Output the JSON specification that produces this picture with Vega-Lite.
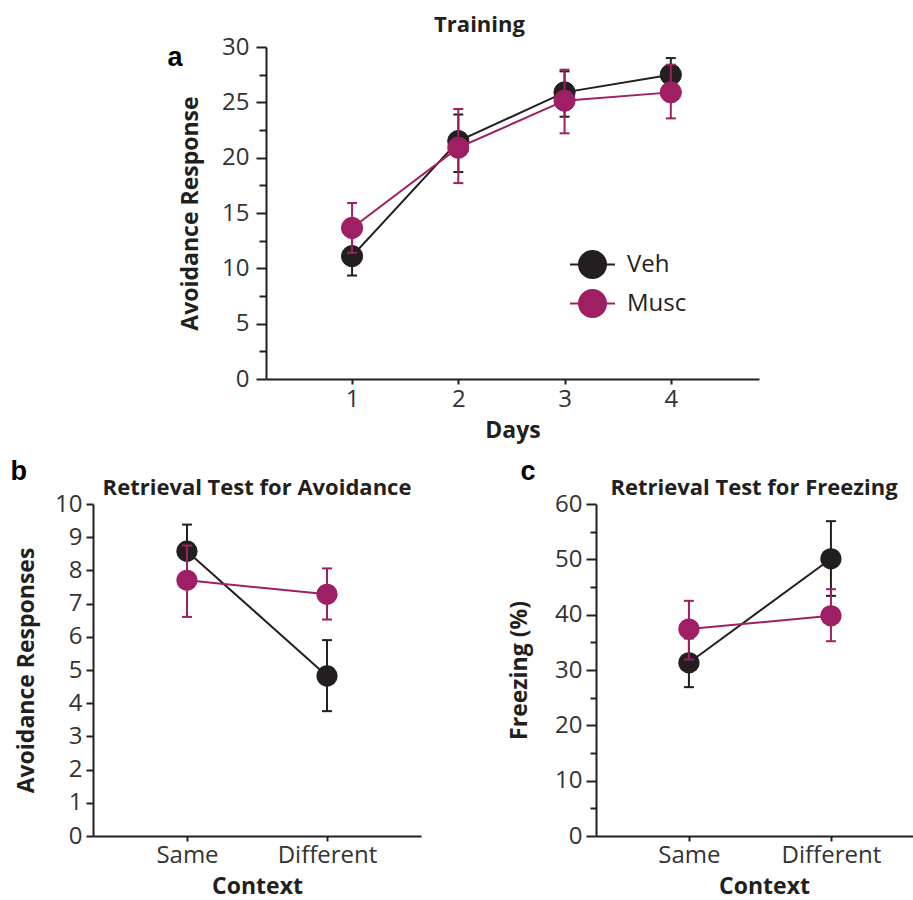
{
  "$schema": "https://vega.github.io/schema/vega-lite/v6.json",
  "padding": {"left": 10, "top": 14, "right": 0, "bottom": 2},
  "background": "white",
  "config": {
    "font": "Open Sans",
    "view": {"stroke": null},
    "axis": {"grid": false, "domainColor": "#231F20", "domainWidth": 2, "tickColor": "#231F20", "tickWidth": 2, "labelFont": "Open Sans", "labelFontSize": 24, "labelColor": "#333333", "titleFont": "Open Sans", "titleFontSize": 23, "titleFontWeight": "bold", "titleColor": "#231F20", "labelOverlap": false, "labelFlush": false},
    "title": {"font": "Open Sans", "fontSize": 22, "fontWeight": "bold", "color": "#231F20", "baseline": "alphabetic"}
  },
  "spacing": 16,
  "center": true,
  "resolve": {"scale": {"fill": "independent", "stroke": "independent"}, "legend": {"fill": "independent", "stroke": "independent"}},
  "vconcat": [
    {
      "title": {"text": "a", "anchor": "start", "frame": "bounds", "font": "Liberation Sans", "fontSize": 27, "fontWeight": "bold", "color": "#000000", "baseline": "alphabetic", "offset": 0, "dx": -12, "dy": 79},
      "resolve": {"scale": {"fill": "independent", "stroke": "independent"}, "legend": {"fill": "independent", "stroke": "independent"}},
      "vconcat": [
        {
          "width": 493,
          "height": 332,
          "title": {"text": "Training", "dx": -33, "offset": -2},
          "data": {"values": [
            {"day": 1, "group": "Veh", "mean": 11.1, "lo": 9.35, "hi": 12.9},
            {"day": 2, "group": "Veh", "mean": 21.5, "lo": 18.7, "hi": 23.9},
            {"day": 3, "group": "Veh", "mean": 25.9, "lo": 23.7, "hi": 27.8},
            {"day": 4, "group": "Veh", "mean": 27.5, "lo": 26.0, "hi": 29.0},
            {"day": 1, "group": "Musc", "mean": 13.65, "lo": 11.4, "hi": 15.9},
            {"day": 2, "group": "Musc", "mean": 20.9, "lo": 17.7, "hi": 24.4},
            {"day": 3, "group": "Musc", "mean": 25.15, "lo": 22.2, "hi": 27.95},
            {"day": 4, "group": "Musc", "mean": 25.9, "lo": 23.55, "hi": 28.4}
          ]},
          "encoding": {
            "x": {"field": "day", "type": "quantitative", "scale": {"domain": [0.19, 4.83], "nice": false, "zero": false}, "axis": {"title": "Days", "values": [1, 2, 3, 4], "format": "d", "tickSize": 5, "labelPadding": 3, "titlePadding": 8}},
            "y": {"field": "mean", "type": "quantitative", "scale": {"domain": [0, 30], "nice": false, "zero": false}, "axis": {"title": "Avoidance Response", "values": [0, 2.5, 5, 7.5, 10, 12.5, 15, 17.5, 20, 22.5, 25, 27.5, 30], "labelExpr": "datum.value % 5 === 0 ? datum.label : ''", "tickSize": {"condition": {"test": "datum.value % 5 === 0", "value": 10}, "value": 7}, "labelPadding": 7, "titlePadding": 19}}
          },
          "layer": [
            {"transform": [{"filter": "datum.group === 'Veh'"}], "mark": {"type": "rule", "color": "#231F20", "strokeWidth": 2},
             "encoding": {"y": {"field": "lo", "type": "quantitative", "axis": {"title": "Avoidance Response", "values": [0, 2.5, 5, 7.5, 10, 12.5, 15, 17.5, 20, 22.5, 25, 27.5, 30], "labelExpr": "datum.value % 5 === 0 ? datum.label : ''", "tickSize": {"condition": {"test": "datum.value % 5 === 0", "value": 10}, "value": 7}, "labelPadding": 7, "titlePadding": 19}}, "y2": {"field": "hi"}}},
            {"transform": [{"filter": "datum.group === 'Veh'"}], "mark": {"type": "tick", "orient": "horizontal", "color": "#231F20", "size": 10, "thickness": 2, "opacity": 1},
             "encoding": {"y": {"field": "hi", "type": "quantitative", "axis": {"title": "Avoidance Response", "values": [0, 2.5, 5, 7.5, 10, 12.5, 15, 17.5, 20, 22.5, 25, 27.5, 30], "labelExpr": "datum.value % 5 === 0 ? datum.label : ''", "tickSize": {"condition": {"test": "datum.value % 5 === 0", "value": 10}, "value": 7}, "labelPadding": 7, "titlePadding": 19}}}},
            {"transform": [{"filter": "datum.group === 'Veh'"}], "mark": {"type": "tick", "orient": "horizontal", "color": "#231F20", "size": 10, "thickness": 2, "opacity": 1},
             "encoding": {"y": {"field": "lo", "type": "quantitative", "axis": {"title": "Avoidance Response", "values": [0, 2.5, 5, 7.5, 10, 12.5, 15, 17.5, 20, 22.5, 25, 27.5, 30], "labelExpr": "datum.value % 5 === 0 ? datum.label : ''", "tickSize": {"condition": {"test": "datum.value % 5 === 0", "value": 10}, "value": 7}, "labelPadding": 7, "titlePadding": 19}}}},
            {"transform": [{"filter": "datum.group === 'Veh'"}], "mark": {"type": "line", "color": "#231F20", "strokeWidth": 2}, "encoding": {}},
            {"transform": [{"filter": "datum.group === 'Veh'"}], "mark": {"type": "point", "filled": true, "size": 450, "opacity": 1, "strokeWidth": 1},
             "encoding": {
               "fill": {"field": "group", "type": "nominal", "scale": {"domain": ["Veh", "Musc"], "range": ["#231F20", "#9E1F63"]}, "legend": {"orient": "none", "legendX": 314, "legendY": 205, "title": null, "symbolType": "M-2,0H2M1.2,0A1.2,1.2,0,1,1,-1.2,0A1.2,1.2,0,1,1,1.2,0Z", "symbolSize": 506, "symbolStrokeWidth": 2, "symbolOpacity": 1, "labelFont": "Open Sans", "labelFontSize": 24, "labelColor": "#231F20", "labelOffset": 22, "rowPadding": 4, "padding": 0}},
               "stroke": {"field": "group", "type": "nominal", "scale": {"domain": ["Veh", "Musc"], "range": ["#231F20", "#9E1F63"]}, "legend": {"orient": "none", "legendX": 314, "legendY": 205, "title": null, "symbolType": "M-2,0H2M1.2,0A1.2,1.2,0,1,1,-1.2,0A1.2,1.2,0,1,1,1.2,0Z", "symbolSize": 506, "symbolStrokeWidth": 2, "symbolOpacity": 1, "labelFont": "Open Sans", "labelFontSize": 24, "labelColor": "#231F20", "labelOffset": 22, "rowPadding": 4, "padding": 0}}}},
            {"transform": [{"filter": "datum.group === 'Musc'"}], "mark": {"type": "rule", "color": "#9E1F63", "strokeWidth": 2},
             "encoding": {"y": {"field": "lo", "type": "quantitative", "axis": {"title": "Avoidance Response", "values": [0, 2.5, 5, 7.5, 10, 12.5, 15, 17.5, 20, 22.5, 25, 27.5, 30], "labelExpr": "datum.value % 5 === 0 ? datum.label : ''", "tickSize": {"condition": {"test": "datum.value % 5 === 0", "value": 10}, "value": 7}, "labelPadding": 7, "titlePadding": 19}}, "y2": {"field": "hi"}}},
            {"transform": [{"filter": "datum.group === 'Musc'"}], "mark": {"type": "tick", "orient": "horizontal", "color": "#9E1F63", "size": 10, "thickness": 2, "opacity": 1},
             "encoding": {"y": {"field": "hi", "type": "quantitative", "axis": {"title": "Avoidance Response", "values": [0, 2.5, 5, 7.5, 10, 12.5, 15, 17.5, 20, 22.5, 25, 27.5, 30], "labelExpr": "datum.value % 5 === 0 ? datum.label : ''", "tickSize": {"condition": {"test": "datum.value % 5 === 0", "value": 10}, "value": 7}, "labelPadding": 7, "titlePadding": 19}}}},
            {"transform": [{"filter": "datum.group === 'Musc'"}], "mark": {"type": "tick", "orient": "horizontal", "color": "#9E1F63", "size": 10, "thickness": 2, "opacity": 1},
             "encoding": {"y": {"field": "lo", "type": "quantitative", "axis": {"title": "Avoidance Response", "values": [0, 2.5, 5, 7.5, 10, 12.5, 15, 17.5, 20, 22.5, 25, 27.5, 30], "labelExpr": "datum.value % 5 === 0 ? datum.label : ''", "tickSize": {"condition": {"test": "datum.value % 5 === 0", "value": 10}, "value": 7}, "labelPadding": 7, "titlePadding": 19}}}},
            {"transform": [{"filter": "datum.group === 'Musc'"}], "mark": {"type": "line", "color": "#9E1F63", "strokeWidth": 2}, "encoding": {}},
            {"transform": [{"filter": "datum.group === 'Musc'"}], "mark": {"type": "point", "filled": true, "size": 450, "opacity": 1, "strokeWidth": 1},
             "encoding": {
               "fill": {"field": "group", "type": "nominal", "scale": {"domain": ["Veh", "Musc"], "range": ["#231F20", "#9E1F63"]}, "legend": {"orient": "none", "legendX": 314, "legendY": 205, "title": null, "symbolType": "M-2,0H2M1.2,0A1.2,1.2,0,1,1,-1.2,0A1.2,1.2,0,1,1,1.2,0Z", "symbolSize": 506, "symbolStrokeWidth": 2, "symbolOpacity": 1, "labelFont": "Open Sans", "labelFontSize": 24, "labelColor": "#231F20", "labelOffset": 22, "rowPadding": 4, "padding": 0}},
               "stroke": {"field": "group", "type": "nominal", "scale": {"domain": ["Veh", "Musc"], "range": ["#231F20", "#9E1F63"]}, "legend": {"orient": "none", "legendX": 314, "legendY": 205, "title": null, "symbolType": "M-2,0H2M1.2,0A1.2,1.2,0,1,1,-1.2,0A1.2,1.2,0,1,1,1.2,0Z", "symbolSize": 506, "symbolStrokeWidth": 2, "symbolOpacity": 1, "labelFont": "Open Sans", "labelFontSize": 24, "labelColor": "#231F20", "labelOffset": 22, "rowPadding": 4, "padding": 0}}}}
          ]
        }
      ]
    },
    {
      "spacing": 87,
      "hconcat": [
        {
          "title": {"text": "b", "anchor": "start", "frame": "bounds", "font": "Liberation Sans", "fontSize": 27, "fontWeight": "bold", "color": "#000000", "baseline": "alphabetic", "offset": 0, "dx": -5, "dy": 30},
          "vconcat": [
            {
              "width": 328,
              "height": 332,
              "title": {"text": "Retrieval Test for Avoidance", "offset": -8},
              "data": {"values": [
                {"context": "Same", "group": "Veh", "mean": 8.58, "lo": 7.8, "hi": 9.38},
                {"context": "Different", "group": "Veh", "mean": 4.82, "lo": 3.76, "hi": 5.9},
                {"context": "Same", "group": "Musc", "mean": 7.7, "lo": 6.6, "hi": 8.75},
                {"context": "Different", "group": "Musc", "mean": 7.28, "lo": 6.52, "hi": 8.06}
              ]},
              "encoding": {
                "x": {"field": "context", "type": "nominal", "scale": {"type": "point", "domain": ["Same", "Different"], "padding": 0.671}, "axis": {"title": "Context", "labelAngle": 0, "tickSize": 5, "labelPadding": 2, "titlePadding": 8}},
                "y": {"field": "mean", "type": "quantitative", "scale": {"domain": [0, 10], "nice": false, "zero": false}, "axis": {"title": "Avoidance Responses", "values": [0, 1, 2, 3, 4, 5, 6, 7, 8, 9, 10], "tickSize": 7, "labelPadding": 4, "titlePadding": 16}}
              },
              "layer": [
                {"transform": [{"filter": "datum.group === 'Veh'"}], "mark": {"type": "rule", "color": "#231F20", "strokeWidth": 2},
                 "encoding": {"y": {"field": "lo", "type": "quantitative", "axis": {"title": "Avoidance Responses", "values": [0, 1, 2, 3, 4, 5, 6, 7, 8, 9, 10], "tickSize": 7, "labelPadding": 4, "titlePadding": 16}}, "y2": {"field": "hi"}}},
                {"transform": [{"filter": "datum.group === 'Veh'"}], "mark": {"type": "tick", "orient": "horizontal", "color": "#231F20", "size": 10, "thickness": 2, "opacity": 1},
                 "encoding": {"y": {"field": "hi", "type": "quantitative", "axis": {"title": "Avoidance Responses", "values": [0, 1, 2, 3, 4, 5, 6, 7, 8, 9, 10], "tickSize": 7, "labelPadding": 4, "titlePadding": 16}}}},
                {"transform": [{"filter": "datum.group === 'Veh'"}], "mark": {"type": "tick", "orient": "horizontal", "color": "#231F20", "size": 10, "thickness": 2, "opacity": 1},
                 "encoding": {"y": {"field": "lo", "type": "quantitative", "axis": {"title": "Avoidance Responses", "values": [0, 1, 2, 3, 4, 5, 6, 7, 8, 9, 10], "tickSize": 7, "labelPadding": 4, "titlePadding": 16}}}},
                {"transform": [{"filter": "datum.group === 'Veh'"}], "mark": {"type": "line", "color": "#231F20", "strokeWidth": 2}, "encoding": {}},
                {"transform": [{"filter": "datum.group === 'Veh'"}], "mark": {"type": "point", "filled": true, "size": 450, "opacity": 1, "color": "#231F20", "strokeWidth": 1}, "encoding": {}},
                {"transform": [{"filter": "datum.group === 'Musc'"}], "mark": {"type": "rule", "color": "#9E1F63", "strokeWidth": 2},
                 "encoding": {"y": {"field": "lo", "type": "quantitative", "axis": {"title": "Avoidance Responses", "values": [0, 1, 2, 3, 4, 5, 6, 7, 8, 9, 10], "tickSize": 7, "labelPadding": 4, "titlePadding": 16}}, "y2": {"field": "hi"}}},
                {"transform": [{"filter": "datum.group === 'Musc'"}], "mark": {"type": "tick", "orient": "horizontal", "color": "#9E1F63", "size": 10, "thickness": 2, "opacity": 1},
                 "encoding": {"y": {"field": "hi", "type": "quantitative", "axis": {"title": "Avoidance Responses", "values": [0, 1, 2, 3, 4, 5, 6, 7, 8, 9, 10], "tickSize": 7, "labelPadding": 4, "titlePadding": 16}}}},
                {"transform": [{"filter": "datum.group === 'Musc'"}], "mark": {"type": "tick", "orient": "horizontal", "color": "#9E1F63", "size": 10, "thickness": 2, "opacity": 1},
                 "encoding": {"y": {"field": "lo", "type": "quantitative", "axis": {"title": "Avoidance Responses", "values": [0, 1, 2, 3, 4, 5, 6, 7, 8, 9, 10], "tickSize": 7, "labelPadding": 4, "titlePadding": 16}}}},
                {"transform": [{"filter": "datum.group === 'Musc'"}], "mark": {"type": "line", "color": "#9E1F63", "strokeWidth": 2}, "encoding": {}},
                {"transform": [{"filter": "datum.group === 'Musc'"}], "mark": {"type": "point", "filled": true, "size": 450, "opacity": 1, "color": "#9E1F63", "strokeWidth": 1}, "encoding": {}}
              ]
            }
          ]
        },
        {
          "title": {"text": "c", "anchor": "start", "frame": "bounds", "font": "Liberation Sans", "fontSize": 27, "fontWeight": "bold", "color": "#000000", "baseline": "alphabetic", "offset": 0, "dx": 12, "dy": 30},
          "vconcat": [
            {
              "width": 336,
              "height": 332,
              "title": {"text": "Retrieval Test for Freezing", "offset": -8, "dx": -10},
              "data": {"values": [
                {"context": "Same", "group": "Veh", "mean": 31.3, "lo": 26.9, "hi": 35.7},
                {"context": "Different", "group": "Veh", "mean": 50.1, "lo": 43.4, "hi": 56.9},
                {"context": "Same", "group": "Musc", "mean": 37.4, "lo": 31.9, "hi": 42.5},
                {"context": "Different", "group": "Musc", "mean": 39.8, "lo": 35.2, "hi": 44.6}
              ]},
              "encoding": {
                "x": {"field": "context", "type": "nominal", "scale": {"type": "point", "domain": ["Same", "Different"], "padding": 0.683, "align": 0.479}, "axis": {"title": "Context", "labelAngle": 0, "tickSize": 5, "labelPadding": 2, "titlePadding": 8}},
                "y": {"field": "mean", "type": "quantitative", "scale": {"domain": [0, 60], "nice": false, "zero": false}, "axis": {"title": "Freezing (%)", "values": [0, 5, 10, 15, 20, 25, 30, 35, 40, 45, 50, 55, 60], "labelExpr": "datum.value % 10 === 0 ? datum.label : ''", "tickSize": {"condition": {"test": "datum.value % 10 === 0", "value": 10}, "value": 6}, "labelPadding": 4, "titlePadding": 23}}
              },
              "layer": [
                {"transform": [{"filter": "datum.group === 'Veh'"}], "mark": {"type": "rule", "color": "#231F20", "strokeWidth": 2},
                 "encoding": {"y": {"field": "lo", "type": "quantitative", "axis": {"title": "Freezing (%)", "values": [0, 5, 10, 15, 20, 25, 30, 35, 40, 45, 50, 55, 60], "labelExpr": "datum.value % 10 === 0 ? datum.label : ''", "tickSize": {"condition": {"test": "datum.value % 10 === 0", "value": 10}, "value": 6}, "labelPadding": 4, "titlePadding": 23}}, "y2": {"field": "hi"}}},
                {"transform": [{"filter": "datum.group === 'Veh'"}], "mark": {"type": "tick", "orient": "horizontal", "color": "#231F20", "size": 10, "thickness": 2, "opacity": 1},
                 "encoding": {"y": {"field": "hi", "type": "quantitative", "axis": {"title": "Freezing (%)", "values": [0, 5, 10, 15, 20, 25, 30, 35, 40, 45, 50, 55, 60], "labelExpr": "datum.value % 10 === 0 ? datum.label : ''", "tickSize": {"condition": {"test": "datum.value % 10 === 0", "value": 10}, "value": 6}, "labelPadding": 4, "titlePadding": 23}}}},
                {"transform": [{"filter": "datum.group === 'Veh'"}], "mark": {"type": "tick", "orient": "horizontal", "color": "#231F20", "size": 10, "thickness": 2, "opacity": 1},
                 "encoding": {"y": {"field": "lo", "type": "quantitative", "axis": {"title": "Freezing (%)", "values": [0, 5, 10, 15, 20, 25, 30, 35, 40, 45, 50, 55, 60], "labelExpr": "datum.value % 10 === 0 ? datum.label : ''", "tickSize": {"condition": {"test": "datum.value % 10 === 0", "value": 10}, "value": 6}, "labelPadding": 4, "titlePadding": 23}}}},
                {"transform": [{"filter": "datum.group === 'Veh'"}], "mark": {"type": "line", "color": "#231F20", "strokeWidth": 2}, "encoding": {}},
                {"transform": [{"filter": "datum.group === 'Veh'"}], "mark": {"type": "point", "filled": true, "size": 450, "opacity": 1, "color": "#231F20", "strokeWidth": 1}, "encoding": {}},
                {"transform": [{"filter": "datum.group === 'Musc'"}], "mark": {"type": "rule", "color": "#9E1F63", "strokeWidth": 2},
                 "encoding": {"y": {"field": "lo", "type": "quantitative", "axis": {"title": "Freezing (%)", "values": [0, 5, 10, 15, 20, 25, 30, 35, 40, 45, 50, 55, 60], "labelExpr": "datum.value % 10 === 0 ? datum.label : ''", "tickSize": {"condition": {"test": "datum.value % 10 === 0", "value": 10}, "value": 6}, "labelPadding": 4, "titlePadding": 23}}, "y2": {"field": "hi"}}},
                {"transform": [{"filter": "datum.group === 'Musc'"}], "mark": {"type": "tick", "orient": "horizontal", "color": "#9E1F63", "size": 10, "thickness": 2, "opacity": 1},
                 "encoding": {"y": {"field": "hi", "type": "quantitative", "axis": {"title": "Freezing (%)", "values": [0, 5, 10, 15, 20, 25, 30, 35, 40, 45, 50, 55, 60], "labelExpr": "datum.value % 10 === 0 ? datum.label : ''", "tickSize": {"condition": {"test": "datum.value % 10 === 0", "value": 10}, "value": 6}, "labelPadding": 4, "titlePadding": 23}}}},
                {"transform": [{"filter": "datum.group === 'Musc'"}], "mark": {"type": "tick", "orient": "horizontal", "color": "#9E1F63", "size": 10, "thickness": 2, "opacity": 1},
                 "encoding": {"y": {"field": "lo", "type": "quantitative", "axis": {"title": "Freezing (%)", "values": [0, 5, 10, 15, 20, 25, 30, 35, 40, 45, 50, 55, 60], "labelExpr": "datum.value % 10 === 0 ? datum.label : ''", "tickSize": {"condition": {"test": "datum.value % 10 === 0", "value": 10}, "value": 6}, "labelPadding": 4, "titlePadding": 23}}}},
                {"transform": [{"filter": "datum.group === 'Musc'"}], "mark": {"type": "line", "color": "#9E1F63", "strokeWidth": 2}, "encoding": {}},
                {"transform": [{"filter": "datum.group === 'Musc'"}], "mark": {"type": "point", "filled": true, "size": 450, "opacity": 1, "color": "#9E1F63", "strokeWidth": 1}, "encoding": {}}
              ]
            }
          ]
        }
      ]
    }
  ]
}
